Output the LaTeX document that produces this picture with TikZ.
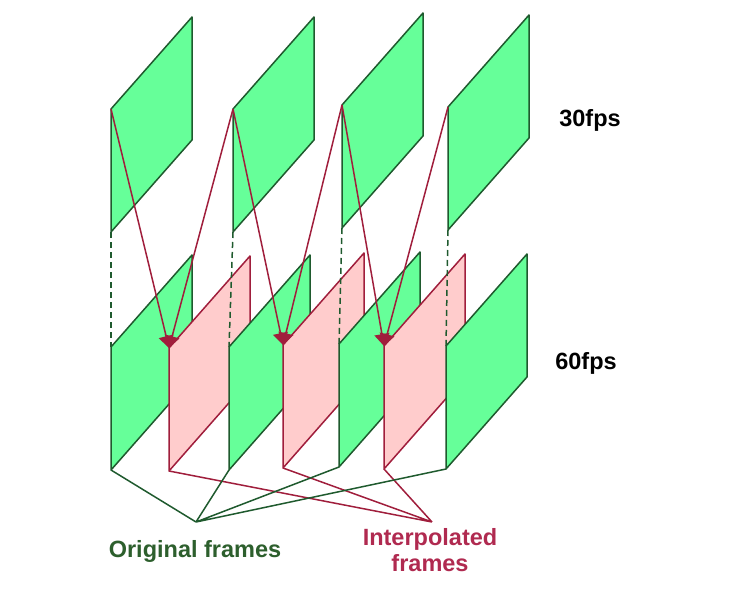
\documentclass[tikz,border=0pt]{standalone}
\usepackage{fontspec}
\setmainfont{Liberation Sans}
\usetikzlibrary{arrows.meta}
\definecolor{framegreen}{HTML}{66FF99}
\definecolor{linegreen}{HTML}{1F5A2E}
\definecolor{framepink}{HTML}{FFCCCC}
\definecolor{linered}{HTML}{A01E3C}
\definecolor{labelgreen}{HTML}{2D5F2D}
\definecolor{labelred}{HTML}{B02A50}
\tikzset{
  orig/.style={draw=linegreen, fill=framegreen, line width=1.5pt, line join=round},
  interp/.style={draw=linered, fill=framepink, line width=1.5pt, line join=round},
  link/.style={draw=linered, line width=1.5pt, -{Triangle[length=12pt,width=15pt]}},
  drop/.style={draw=linegreen, line width=1.5pt, dash pattern=on 6pt off 4pt},
  lab/.style={font=\fontsize{23.5}{26}\selectfont\bfseries, inner sep=0pt}
}
\begin{document}
\begin{tikzpicture}[x=1pt,y=-1pt]
\useasboundingbox (0,0) rectangle (735,604);

\coordinate (t1) at (111,232);
\coordinate (t2) at (233,232);
\coordinate (t3) at (342,228);
\coordinate (t4) at (448,230);
\coordinate (g1) at (111,470);
\coordinate (g2) at (229,470);
\coordinate (g3) at (339,467);
\coordinate (g4) at (446,469);
\coordinate (p1) at (169,471);
\coordinate (p2) at (283,468);
\coordinate (p3) at (384,469);
\coordinate (og) at (196,522);
\coordinate (ig) at (432,522);

\draw[orig] (t1) -- ++(0,-123) coordinate (t1t) -- ++(81,-92) -- ++(0,123) -- cycle;
\draw[orig] (t2) -- ++(0,-123) coordinate (t2t) -- ++(81,-92) -- ++(0,123) -- cycle;
\draw[orig] (t3) -- ++(0,-123) coordinate (t3t) -- ++(81,-92) -- ++(0,123) -- cycle;
\draw[orig] (t4) -- ++(0,-123) coordinate (t4t) -- ++(81,-92) -- ++(0,123) -- cycle;

\draw[orig] (g1) -- ++(0,-123) coordinate (g1t) -- ++(81,-92) -- ++(0,123) -- cycle;
\draw[interp] (p1) -- ++(0,-123) coordinate (p1t) -- ++(81,-92) -- ++(0,123) -- cycle;
\draw[orig] (g2) -- ++(0,-123) coordinate (g2t) -- ++(81,-92) -- ++(0,123) -- cycle;
\draw[interp] (p2) -- ++(0,-123) coordinate (p2t) -- ++(81,-92) -- ++(0,123) -- cycle;
\draw[orig] (g3) -- ++(0,-123) coordinate (g3t) -- ++(81,-92) -- ++(0,123) -- cycle;
\draw[interp] (p3) -- ++(0,-123) coordinate (p3t) -- ++(81,-92) -- ++(0,123) -- cycle;
\draw[orig] (g4) -- ++(0,-123) coordinate (g4t) -- ++(81,-92) -- ++(0,123) -- cycle;

\draw[drop] (t1) -- (g1t);
\draw[drop] (t2) -- (g2t);
\draw[drop] (t3) -- (g3t);
\draw[drop] (t4) -- (g4t);

\draw[link] (t1t) -- (p1t);
\draw[link] (t2t) -- (p1t);
\draw[link] (t2t) -- (p2t);
\draw[link] (t3t) -- (p2t);
\draw[link] (t3t) -- (p3t);
\draw[link] (t4t) -- (p3t);

\draw[linered, line width=1.5pt] (p1) -- (ig) (p2) -- (ig) (p3) -- (ig);
\draw[linegreen, line width=1.5pt] (g1) -- (og) (g2) -- (og) (g3) -- (og) (g4) -- (og);

\node[lab, anchor=base] (fps30) at (590,127) {30fps};
\node[lab, anchor=base] (fps60) at (586,369) {60fps};
\node[lab, anchor=base, text=labelgreen] (origlabel) at (195,557) {Original frames};
\node[lab, anchor=north, align=center, text=labelred] (interplabel) at (430,528) {Interpolated\\frames};
\end{tikzpicture}
\end{document}
